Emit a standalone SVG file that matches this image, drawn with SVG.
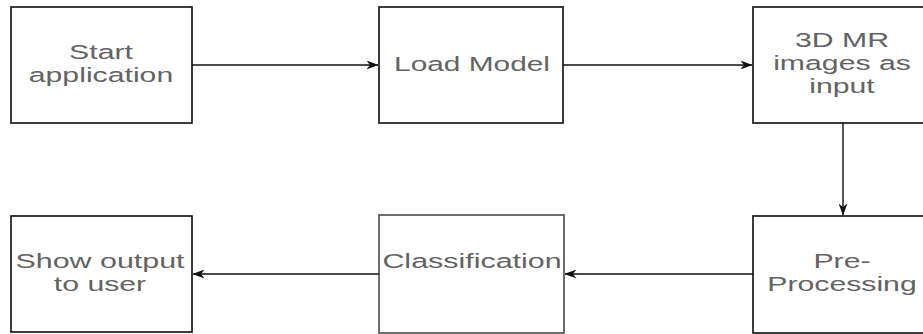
<svg xmlns="http://www.w3.org/2000/svg" width="923" height="334" viewBox="0 0 923 334">
  <defs>
    <marker id="arrow" viewBox="0 0 12 9" refX="11.5" refY="4.5" markerWidth="12" markerHeight="9" markerUnits="userSpaceOnUse" orient="auto">
      <path d="M0,0 L12,4.5 L0,9 L3.5,4.5 Z" fill="#111"/>
    </marker>
  </defs>
  <style>
    .box { fill: #ffffff; stroke: #1a1a1a; stroke-width: 1.7; }
    .box.soft { stroke: #555555; }
    .label { font-family: "Liberation Sans", Arial, sans-serif; font-size: 19.5px; fill: #636363; text-anchor: middle; }
    .link { fill: none; stroke: #111; stroke-width: 1.4; marker-end: url(#arrow); }
  </style>
  <rect width="923" height="334" fill="#ffffff"/>

  <g id="start-application">
    <rect class="box" x="11" y="7" width="181" height="116"/>
    <text class="label" transform="translate(101,59) scale(1.55,1)">Start</text>
    <text class="label" transform="translate(101,82) scale(1.55,1)">application</text>
  </g>

  <g id="load-model">
    <rect class="box" x="379" y="7" width="184" height="116"/>
    <text class="label" transform="translate(472,71) scale(1.53,1)">Load Model</text>
  </g>

  <g id="mr-images-input">
    <rect class="box" x="753" y="7" width="180" height="116"/>
    <text class="label" transform="translate(842,47) scale(1.55,1)">3D MR</text>
    <text class="label" transform="translate(842,70) scale(1.55,1)">images as</text>
    <text class="label" transform="translate(842,93) scale(1.55,1)">input</text>
  </g>

  <g id="pre-processing">
    <rect class="box" x="753" y="216" width="180" height="117"/>
    <text class="label" transform="translate(842,268) scale(1.55,1)">Pre-</text>
    <text class="label" transform="translate(842,291) scale(1.55,1)">Processing</text>
  </g>

  <g id="classification">
    <rect class="box soft" x="379" y="215" width="185" height="118"/>
    <text class="label" transform="translate(472,268) scale(1.56,1)">Classification</text>
  </g>

  <g id="show-output">
    <rect class="box" x="11" y="216" width="181" height="116"/>
    <text class="label" transform="translate(100,268) scale(1.56,1)">Show output</text>
    <text class="label" transform="translate(100,291) scale(1.55,1)">to user</text>
  </g>

  <g id="connectors">
    <path class="link" d="M192,65 L378,65"/>
    <path class="link" d="M563,65 L752,65"/>
    <path class="link" d="M843,123 L843,215"/>
    <path class="link" d="M753,274 L565,274"/>
    <path class="link" d="M379,274 L193,274"/>
  </g>
</svg>
